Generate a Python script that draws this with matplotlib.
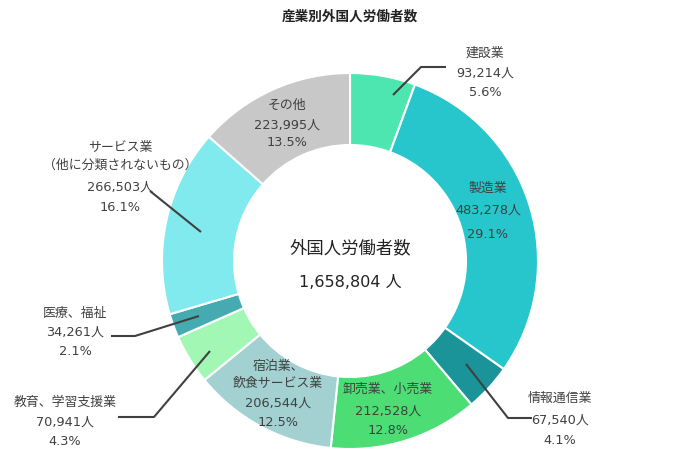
import matplotlib
matplotlib.use("Agg")
import matplotlib.pyplot as plt

plt.rcParams['font.family'] = ['DejaVu Sans', 'Noto Sans CJK JP']

# data
industries = ["建設業", "製造業", "情報通信業", "卸売業、小売業", "宿泊業、\n飲食サービス業",
              "教育、学習支援業", "医療、福祉", "サービス業\n（他に分類されないもの）", "その他"]
workers = [93214, 483278, 67540, 212528, 206544, 70941, 34261, 266503, 223995]
colors = ["#4de6b0", "#26c6cc", "#1a9499", "#4cdd74", "#a3d1d1",
          "#a3f7b5", "#45abb0", "#80eaee", "#c8c8c8"]

total = sum(workers)

# label placement in pixel coords: x center and y of each line
label_x = [485, 488, 560, 388, 278, 65, 75, 120, 287]
label_ys = [
    [53, 73, 93],
    [188, 210, 235],
    [398, 420, 441],
    [389, 411, 431],
    [367, 383, 403, 423],
    [402, 422, 442],
    [313, 332, 352],
    [148, 165, 187, 208],
    [105, 125, 143],
]

# leader lines (pixel coords)
leaders = {
    0: [(393, 96), (421, 68), (446, 68)],
    2: [(466, 365), (508, 419), (532, 419)],
    5: [(210, 352), (154, 418), (118, 418)],
    6: [(199, 317), (135, 337), (111, 337)],
    7: [(150, 192), (201, 233)],
}

cx, cy, r_out, ring = 350, 262, 188, 72

fig = plt.figure(figsize=(7, 4.52), dpi=100)
ax = fig.add_axes([0, 0, 1, 1])

ax.pie(workers, colors=colors, center=(cx, cy), radius=r_out,
       startangle=-90, counterclock=True,
       wedgeprops=dict(width=ring, edgecolor="white", linewidth=1.5))
ax.set_xlim(0, 700)
ax.set_ylim(452, 0)
ax.set_aspect("equal")
ax.axis("off")

txt = "#404040"
for i, name in enumerate(industries):
    lines = name.split("\n") + [f"{workers[i]:,}人", f"{workers[i] / total * 100:.1f}%"]
    for line, y in zip(lines, label_ys[i]):
        ax.text(label_x[i], y, line, ha="center", va="center",
                fontsize=9.3, color=txt)

for pts in leaders.values():
    xs, ys = zip(*pts)
    ax.plot(xs, ys, color="#404040", lw=1.5, solid_capstyle="butt")

ax.text(cx, 248, "外国人労働者数", ha="center", va="center", fontsize=12.5, color="#222222")
ax.text(cx, 283, f"{total:,} 人", ha="center", va="center", fontsize=11.5, color="#222222")

ax.text(cx, 17, "産業別外国人労働者数", ha="center", va="center", fontsize=9.8,
        fontweight="bold", color="#222222")

fig.savefig("out.png", dpi=100)
